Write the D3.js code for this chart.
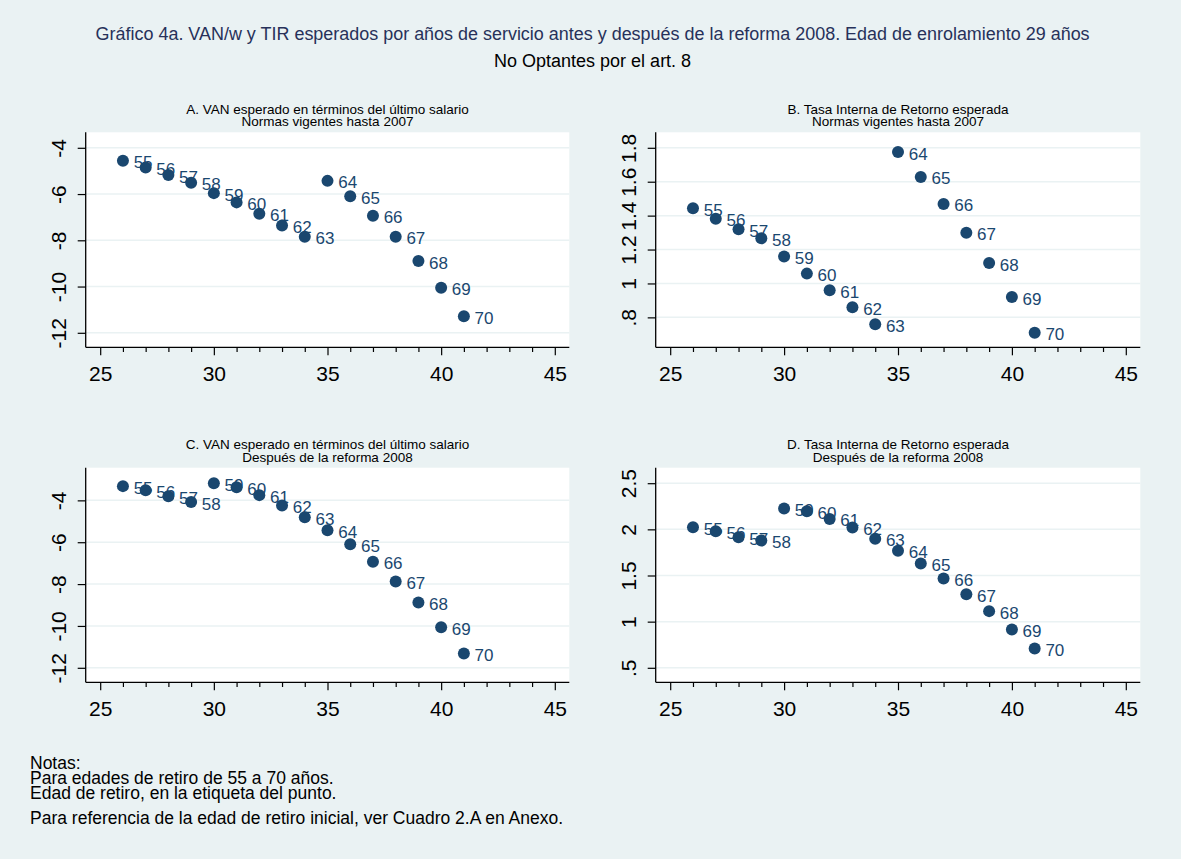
<!DOCTYPE html>
<html>
<head>
<meta charset="utf-8">
<script src="https://cdn.jsdelivr.net/npm/d3@7"></script>
<style>
  body { margin: 0; background: #eaf2f3; }
  svg { display: block; font-family: "Liberation Sans", Arial, sans-serif; }
</style>
</head>
<body>
<svg id="chart" width="1181" height="859"></svg>
<script>
// Years of service (x) and the retirement age shown as each point's label
const serviceYears   = [26, 27, 28, 29, 30, 31, 32, 33, 34, 35, 36, 37, 38, 39, 40, 41];
const retirementAges = [55, 56, 57, 58, 59, 60, 61, 62, 63, 64, 65, 66, 67, 68, 69, 70];

// A. VAN / last wage, rules in force until 2007
const vanBefore = [-4.56, -4.85, -5.18, -5.51, -5.96, -6.36, -6.85, -7.36, -7.85,
                   -5.43, -6.10, -6.94, -7.85, -8.90, -10.05, -11.28];
// B. Internal rate of return, rules in force until 2007
const tirBefore = [1.443, 1.382, 1.319, 1.266, 1.159, 1.058, 0.960, 0.859, 0.760,
                   1.775, 1.628, 1.469, 1.299, 1.120, 0.920, 0.709];
// C. VAN / last wage, after the 2008 reform
const vanAfter  = [-3.32, -3.52, -3.80, -4.08, -3.18, -3.37, -3.75, -4.24, -4.81,
                   -5.43, -6.10, -6.93, -7.88, -8.88, -10.06, -11.32];
// D. Internal rate of return, after the 2008 reform
const tirAfter  = [2.023, 1.980, 1.915, 1.879, 2.226, 2.197, 2.113, 2.020, 1.897,
                   1.767, 1.630, 1.468, 1.298, 1.114, 0.916, 0.710];

// Axis ticks
const xTicks          = [25, 30, 35, 40, 45];
const xMinorTicks     = [26, 27, 28, 29, 31, 32, 33, 34, 36, 37, 38, 39, 41, 42, 43, 44];
const vanTicks        = [-12, -10, -8, -6, -4];
const tirBeforeTicks  = [0.8, 1, 1.2, 1.4, 1.6, 1.8];
const tirAfterTicks   = [0.5, 1, 1.5, 2, 2.5];

// Texts
const mainTitle = "Gráfico 4a. VAN/w y TIR esperados por años de servicio antes y después de la reforma 2008. Edad de enrolamiento 29 años";
const mainSubtitle = "No Optantes por el art. 8";
const notes = [
  "Notas:",
  "Para edades de retiro de 55 a 70 años.",
  "Edad de retiro, en la etiqueta del punto.",
  "Para referencia de la edad de retiro inicial, ver Cuadro 2.A en Anexo."
];

const NAVY = "#1a476f";
const BG = "#eaf2f3";

const panels = [
  { title: ["A. VAN esperado en términos del último salario", "Normas vigentes hasta 2007"],
    values: vanBefore, ticks: vanTicks, box: { x0: 85.7, x1: 569.3, y0: 132.3, y1: 347.3 } },
  { title: ["B. Tasa Interna de Retorno esperada", "Normas vigentes hasta 2007"],
    values: tirBefore, ticks: tirBeforeTicks, box: { x0: 655.7, x1: 1140.3, y0: 132.3, y1: 347.3 } },
  { title: ["C. VAN esperado en términos del último salario", "Después de la reforma 2008"],
    values: vanAfter, ticks: vanTicks, box: { x0: 85.7, x1: 569.3, y0: 467.7, y1: 682.3 } },
  { title: ["D. Tasa Interna de Retorno esperada", "Después de la reforma 2008"],
    values: tirAfter, ticks: tirAfterTicks, box: { x0: 655.7, x1: 1140.3, y0: 467.7, y1: 682.3 } }
];

// Stata-like number labels: ".8", "1.2", "-4"
const fmt = v => String(+v.toFixed(4)).replace(/^0\./, ".").replace(/^-0\./, "-.");

const svg = d3.select("#chart");
svg.append("rect").attr("width", 1181).attr("height", 859).attr("fill", BG);

// Figure title
svg.append("text")
  .attr("x", 592.6).attr("y", 40)
  .attr("text-anchor", "middle")
  .attr("font-size", 17.5)
  .attr("fill", "#27315a")
  .attr("textLength", 994)
  .attr("lengthAdjust", "spacingAndGlyphs")
  .text(mainTitle);
svg.append("text")
  .attr("x", 592.6).attr("y", 66.5)
  .attr("text-anchor", "middle")
  .attr("font-size", 18)
  .attr("fill", "#000")
  .text(mainSubtitle);

const PAD = 14.5; // inner margin between the plot region edge and the axis range

panels.forEach(p => {
  const b = p.box;
  const g = svg.append("g");

  const xDom = d3.extent(xTicks.concat(serviceYears));
  const yDom = d3.extent(p.ticks.concat(p.values));
  const x = d3.scaleLinear().domain(xDom).range([b.x0 + PAD, b.x1 - PAD]);
  const y = d3.scaleLinear().domain(yDom).range([b.y1 - PAD, b.y0 + 15.5]);

  // plot region
  g.append("rect")
    .attr("x", b.x0).attr("y", b.y0)
    .attr("width", b.x1 - b.x0).attr("height", b.y1 - b.y0)
    .attr("fill", "#fff");

  // horizontal grid lines
  g.selectAll("line.grid").data(p.ticks).join("line")
    .attr("class", "grid")
    .attr("x1", b.x0).attr("x2", b.x1)
    .attr("y1", d => y(d)).attr("y2", d => y(d))
    .attr("stroke", BG).attr("stroke-width", 1.5);

  // panel titles
  const cx = (b.x0 + b.x1) / 2;
  g.append("text").attr("x", cx).attr("y", b.y0 - 18.5)
    .attr("text-anchor", "middle").attr("font-size", 13.5).attr("fill", "#000")
    .text(p.title[0]);
  g.append("text").attr("x", cx).attr("y", b.y0 - 6)
    .attr("text-anchor", "middle").attr("font-size", 13.5).attr("fill", "#000")
    .text(p.title[1]);

  // x axis: major + minor ticks
  const xAxisG = g.append("g").attr("transform", `translate(0,${b.y1})`);
  xAxisG.append("g")
    .call(d3.axisBottom(x).tickValues(xMinorTicks).tickSize(4.7).tickFormat(""))
    .call(a => a.select(".domain").remove());
  xAxisG.append("g")
    .call(d3.axisBottom(x).tickValues(xTicks).tickSize(8).tickFormat(fmt))
    .call(a => a.select(".domain").remove())
    .call(a => a.selectAll("text")
      .attr("y", 33.5).attr("dy", 0)
      .attr("font-size", 21).attr("font-family", "Liberation Sans, Arial, sans-serif")
      .attr("fill", "#000"));
  xAxisG.selectAll(".tick line").attr("stroke", "#000").attr("stroke-width", 1.2);
  xAxisG.append("line")
    .attr("x1", b.x0).attr("x2", b.x1).attr("y1", 0).attr("y2", 0)
    .attr("stroke", "#000").attr("stroke-width", 1.3);

  // y axis with rotated labels
  const yAxisG = g.append("g").attr("transform", `translate(${b.x0},0)`);
  yAxisG.call(d3.axisLeft(y).tickValues(p.ticks).tickSize(8).tickFormat(fmt))
    .call(a => a.select(".domain").remove())
    .call(a => a.selectAll(".tick line").attr("stroke", "#000").attr("stroke-width", 1.2))
    .call(a => a.selectAll("text")
      .attr("x", 0).attr("y", 0).attr("dy", 0)
      .attr("text-anchor", "middle")
      .attr("transform", "translate(-19.7,0) rotate(-90)")
      .attr("font-size", 21).attr("font-family", "Liberation Sans, Arial, sans-serif")
      .attr("fill", "#000"));
  yAxisG.append("line")
    .attr("x1", 0).attr("x2", 0).attr("y1", b.y0).attr("y2", b.y1)
    .attr("stroke", "#000").attr("stroke-width", 1.3);

  // points with their retirement-age labels, drawn one after another
  const pts = serviceYears.map((s, i) => ({ s, v: p.values[i], age: retirementAges[i] }));
  const pg = g.selectAll("g.pt").data(pts).join("g").attr("class", "pt");
  pg.append("circle")
    .attr("cx", d => x(d.s)).attr("cy", d => y(d.v)).attr("r", 6)
    .attr("fill", NAVY);
  pg.append("text")
    .attr("x", d => x(d.s) + 10.7).attr("y", d => y(d.v) + 7.5)
    .attr("font-size", 17).attr("fill", NAVY)
    .text(d => d.age);
});

// notes block
const noteY = [769, 784, 799, 824];
svg.append("g").selectAll("text").data(notes).join("text")
  .attr("x", 30).attr("y", (d, i) => noteY[i])
  .attr("font-size", 17.5).attr("fill", "#000")
  .text(d => d);
</script>
</body>
</html>
